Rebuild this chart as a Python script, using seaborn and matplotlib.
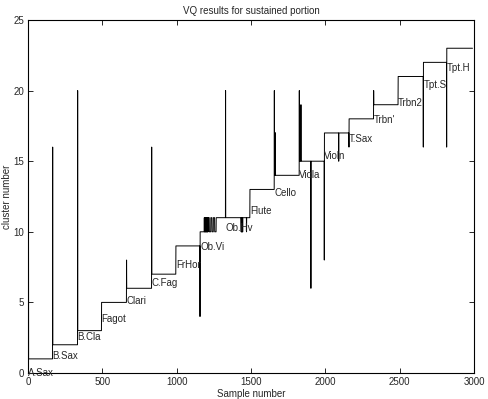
import numpy as np
import pandas as pd
import matplotlib
matplotlib.use("Agg")
import matplotlib.pyplot as plt
import seaborn as sns

# instrument blocks: first sample and main cluster number
instruments = ["A.Sax", "B.Sax", "B.Cla", "Fagot", "Clari", "C.Fag", "FrHor", "Ob.Vi", "Ob.Hv",
               "Flute", "Cello", "Viola", "Violn", "T.Sax", "Trbn'", "Trbn2", "Tpt.S", "Tpt.H"]
seg_start = [1, 166, 334, 495, 663, 832, 995, 1157, 1329, 1493, 1657, 1825, 1993, 2159, 2325, 2490, 2659, 2816]
seg_level = [1, 2, 3, 5, 6, 7, 9, 10, 11, 13, 14, 15, 17, 18, 19, 21, 22, 23]
label_y = [0, 1.2, 2.55, 3.85, 5.1, 6.35, 7.65, 8.9, 10.3, 11.45, 12.75, 14.05, 15.35, 16.6, 17.9, 19.1, 20.4, 21.6]
n_samples = 2990

# Ob.Vi drifts into cluster 11 after a few samples
mix_runs = [(1186, 1328, 11)]
# samples that fall back to cluster 10 inside the cluster 11 stretch
low_samples = [1187, 1189, 1191, 1193, 1195, 1197, 1199, 1201, 1203, 1205, 1207, 1209, 1211,
               1434, 1436, 1438, 1440, 1442, 1444, 1470]
low_runs = [(1220, 1229, 10), (1238, 1246, 10), (1256, 1265, 10)]

# single-sample outliers
spike_x = [1, 2, 3, 166, 334, 663, 832, 1157, 1329, 1657, 1660, 1662, 1664,
           1825, 1836, 1903, 1993, 2090, 2159, 2325, 2659, 2816]
spike_y = [16, 16, 16, 16, 20, 8, 16, 4, 20, 20, 17, 17, 17,
           20, 19, 6, 8, 15, 16, 20, 16, 16]

samples = np.arange(1, n_samples + 1)
cluster = np.zeros(n_samples)
bounds = seg_start + [n_samples + 1]
for i, lev in enumerate(seg_level):
    cluster[(samples >= bounds[i]) & (samples < bounds[i + 1])] = lev
for a, b, lev in mix_runs + low_runs:
    cluster[(samples >= a) & (samples <= b)] = lev
for s in low_samples:
    cluster[s - 1] = 10
for s, v in zip(spike_x, spike_y):
    cluster[s - 1] = v

df = pd.DataFrame({"sample": samples, "cluster": cluster})

sns.set_style("ticks")
plt.rcParams["font.family"] = ["Liberation Sans", "DejaVu Sans"]

fig = plt.figure(figsize=(4.89, 3.99), dpi=100)
ax = fig.add_axes([28 / 489, 26 / 399, 446 / 489, 353 / 399])
sns.lineplot(data=df, x="sample", y="cluster", color="black", linewidth=0.7,
             estimator=None, ax=ax)

for name, x0, y0 in zip(instruments, seg_start, label_y):
    ax.text(x0, y0, name, ha="left", va="center", fontsize=7)

ax.set_xlim(0, 3000)
ax.set_ylim(0, 25)
ax.set_xticks(range(0, 3001, 500))
ax.set_yticks(range(0, 26, 5))
ax.tick_params(direction="in", top=True, right=True, length=3.5, width=0.7,
               labelsize=7, pad=3)
for sp in ax.spines.values():
    sp.set_visible(True)
    sp.set_linewidth(0.8)
    sp.set_color("black")
ax.set_title("VQ results for sustained portion", fontsize=7, pad=4)
ax.set_xlabel("Sample number", fontsize=7, labelpad=1)
ax.set_ylabel("cluster number", fontsize=7, labelpad=1)

fig.savefig("out.png", dpi=100)
